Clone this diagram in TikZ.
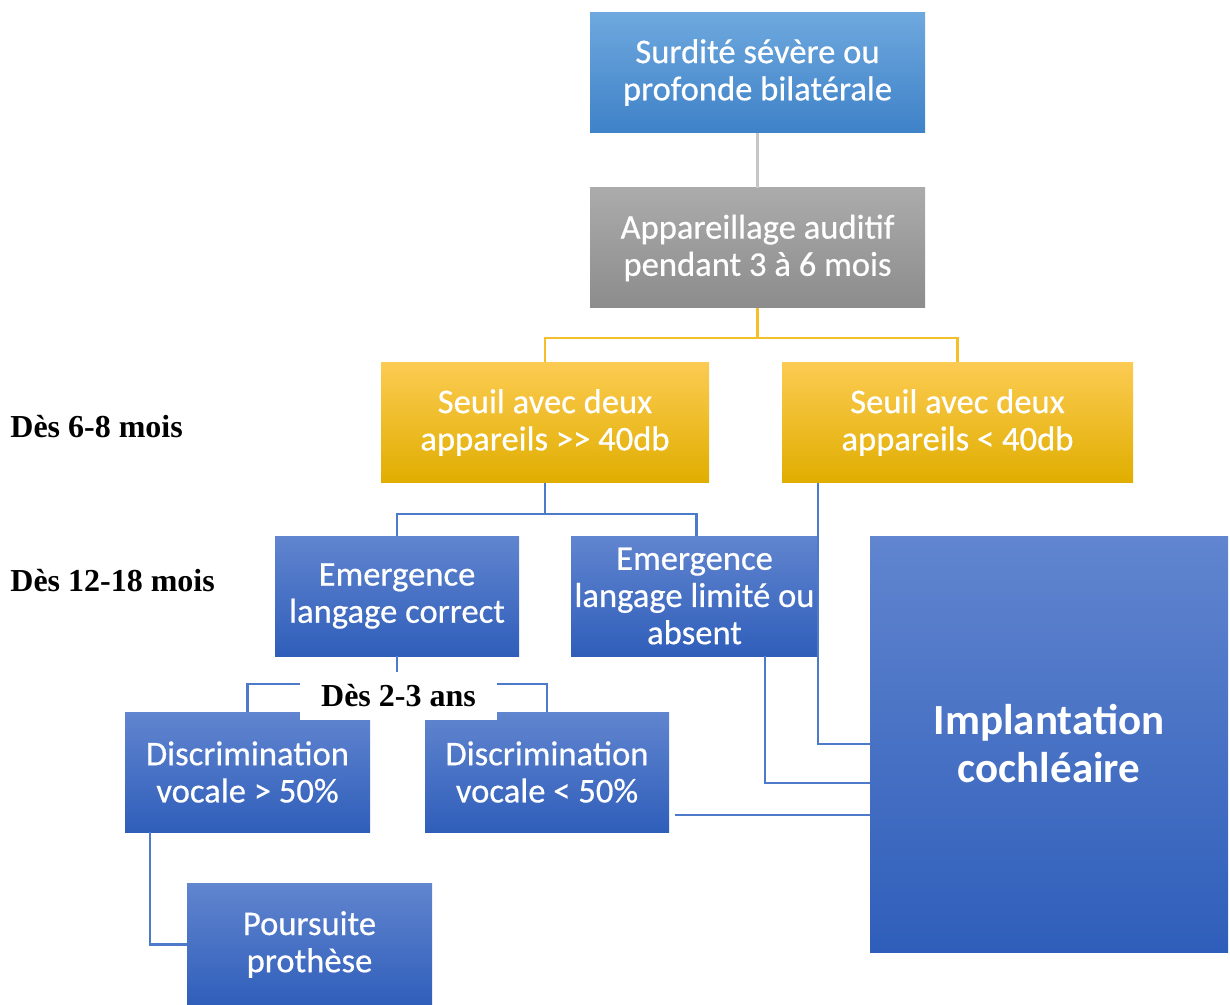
\documentclass[tikz,border=0pt]{standalone}
\usepackage{fontspec}
\setmainfont{Carlito}
\newfontfamily\boxfont[FakeBold=0.5]{Carlito}
\newfontfamily\timesfont{Liberation Serif}
\usetikzlibrary{calc}
\definecolor{blueT}{HTML}{6185CF}
\definecolor{blueB}{HTML}{2F5EBA}
\definecolor{skyT}{HTML}{6EA8DE}
\definecolor{skyB}{HTML}{3F82C8}
\definecolor{grayT}{HTML}{ABABAB}
\definecolor{grayB}{HTML}{8C8C8C}
\definecolor{goldT}{HTML}{FCCB52}
\definecolor{goldM}{HTML}{F9C300}
\definecolor{goldB}{HTML}{E0AE00}
\definecolor{lineBlue}{HTML}{4E7ACA}
\definecolor{lineGold}{HTML}{F3C02C}
\definecolor{lineGray}{HTML}{C6C6C6}
\tikzset{
  boxbase/.style={rectangle, inner sep=0pt, text=white, align=center, font=\boxfont\fontsize{17.3}{18.6}\selectfont, minimum height=60pt},
  bluebox/.style={boxbase, top color=blueT, bottom color=blueB},
  skybox/.style={boxbase, top color=skyT, bottom color=skyB},
  graybox/.style={boxbase, top color=grayT, bottom color=grayB},
  goldbox/.style={boxbase, top color=goldT, middle color=goldM, bottom color=goldB},
  blueline/.style={draw=lineBlue, line width=1.1pt},
  goldline/.style={draw=lineGold, line width=1.1pt},
  grayline/.style={draw=lineGray, line width=1.3pt},
  agelabel/.style={font=\timesfont\bfseries\fontsize{16}{18}\selectfont, inner sep=0pt}
}
\begin{document}
\begin{tikzpicture}[x=0.5pt,y=-0.5pt]
\useasboundingbox (0,0) rectangle (1230,1005);
% boxes
\node[skybox, minimum width=167.5pt] (top) at (757.5,72.5) {Surdité sévère ou\\profonde bilatérale};
\node[graybox, minimum width=167.5pt] (app) at (757.5,248) {Appareillage auditif\\pendant 3 à 6 mois};
\node[goldbox, minimum width=164pt] (seuilL) at (545,422.5) {Seuil avec deux\\appareils >{}> 40db};
\node[goldbox, minimum width=175.5pt] (seuilR) at (957.5,422.5) {Seuil avec deux\\appareils < 40db};
\node[bluebox, minimum width=122pt] (emC) at (397,596) {Emergence\\langage correct};
\node[bluebox, minimum width=123.5pt] (emL) at (694.5,596) {Emergence\\langage limité ou\\absent};
\node[bluebox, minimum width=179pt, minimum height=208pt, font=\bfseries\fontsize{21.5}{24}\selectfont] (impl) at (1049,744) {Implantation\\cochléaire};
\node[bluebox, minimum width=122.5pt] (discG) at (247.5,772) {Discrimination\\vocale > 50\%};
\node[bluebox, minimum width=122pt] (discL) at (547,772) {Discrimination\\vocale < 50\%};
\node[bluebox, minimum width=122.5pt, minimum height=61pt] (pours) at (309.5,944.5) {Poursuite\\prothèse};
% connectors
\draw[grayline] (top.south) -- (app.north);
\coordinate (jA) at (757.5,338);
\draw[goldline] (app.south) -- (jA);
\draw[goldline] (jA) -| (seuilL.north);
\draw[goldline] (jA) -| (seuilR.north);
\coordinate (jB) at (545,514);
\draw[blueline] (seuilL.south) -- (jB);
\draw[blueline] (jB) -| (emC.north);
\draw[blueline] (jB) -| ([xshift=1pt]emL.north);
\draw[blueline] ([xshift=18pt]seuilR.south west) |- (impl.west);
\draw[blueline] ([xshift=35.25pt]emL.south) |- ([yshift=-19.5pt]impl.west);
\coordinate (dl) at ([xshift=3pt,yshift=-21.5pt]discL.east);
\draw[blueline] (dl) -- (dl -| impl.west);
\coordinate (jC) at (397,684);
\draw[blueline] (emC.south) -- (jC);
\draw[blueline] (jC) -| (discG.north);
\draw[blueline] (jC) -| (discL.north);
\draw[blueline] ([xshift=12.5pt]discG.south west) |- (pours.west);
% labels
\node[agelabel, fill=white, minimum width=98.5pt, minimum height=24pt] (age3) at (398.5,696) {Dès 2-3 ans};
\node[agelabel, anchor=west] (age1) at (10,427) {Dès 6-8 mois};
\node[agelabel, anchor=west] (age2) at (10,581) {Dès 12-18 mois};
\end{tikzpicture}
\end{document}
